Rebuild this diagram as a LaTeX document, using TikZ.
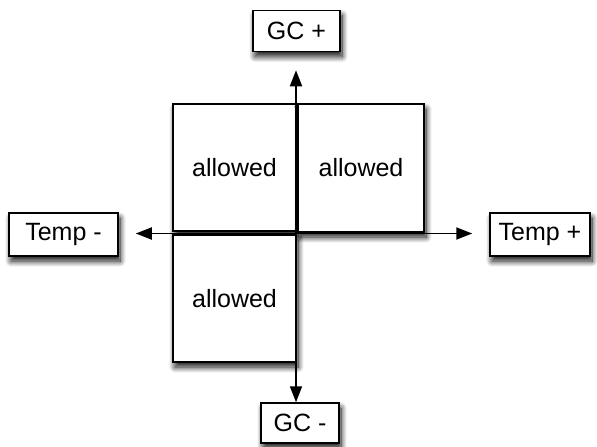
\documentclass[tikz,border=0pt]{standalone}
\usepackage{fontspec}
\setmainfont{Liberation Sans}
\usetikzlibrary{arrows.meta,shadows.blur,calc}
\begin{document}
\begin{tikzpicture}[x=1pt,y=-1pt,
  box/.style={draw=black,line width=1.5pt,fill=white,inner sep=0pt,
    font=\fontsize{25}{28}\selectfont,
    blur shadow={shadow xshift=2pt,shadow yshift=-5pt,shadow blur radius=6pt,shadow opacity=95,shadow blur steps=12}},
  axis/.style={line width=1.8pt,-{Triangle[length=16pt,width=12pt]}}]
\useasboundingbox (0,0) rectangle (597,447);
\node[box,minimum width=123pt,minimum height=127pt] (tl) at (234.5,167.5) {allowed};
\node[box,minimum width=126pt,minimum height=128pt] (tr) at (361,168) {allowed};
\node[box,minimum width=123pt,minimum height=127pt] (bl) at (234.5,298.5) {allowed};
\node[box,minimum width=87pt,minimum height=41pt] (gcp) at (296.5,31) {GC +};
\node[box,minimum width=78pt,minimum height=40pt] (gcm) at (300,423) {GC -};
\node[box,minimum width=109pt,minimum height=43pt] (tm) at (63.5,234.5) {Temp -};
\node[box,minimum width=100pt,minimum height=43pt] (tp) at (540,234.5) {Temp +};
\coordinate (o) at (296,233.5);
\draw[axis,shorten >=17pt] (o) -- (o -| tm.east);
\draw[axis,shorten >=17pt] (o) -- (o -| tp.west);
\draw[axis,shorten >=18pt] (o) -- (o |- gcp.south);
\draw[axis] (o) -- (o |- gcm.north);
\end{tikzpicture}
\end{document}
